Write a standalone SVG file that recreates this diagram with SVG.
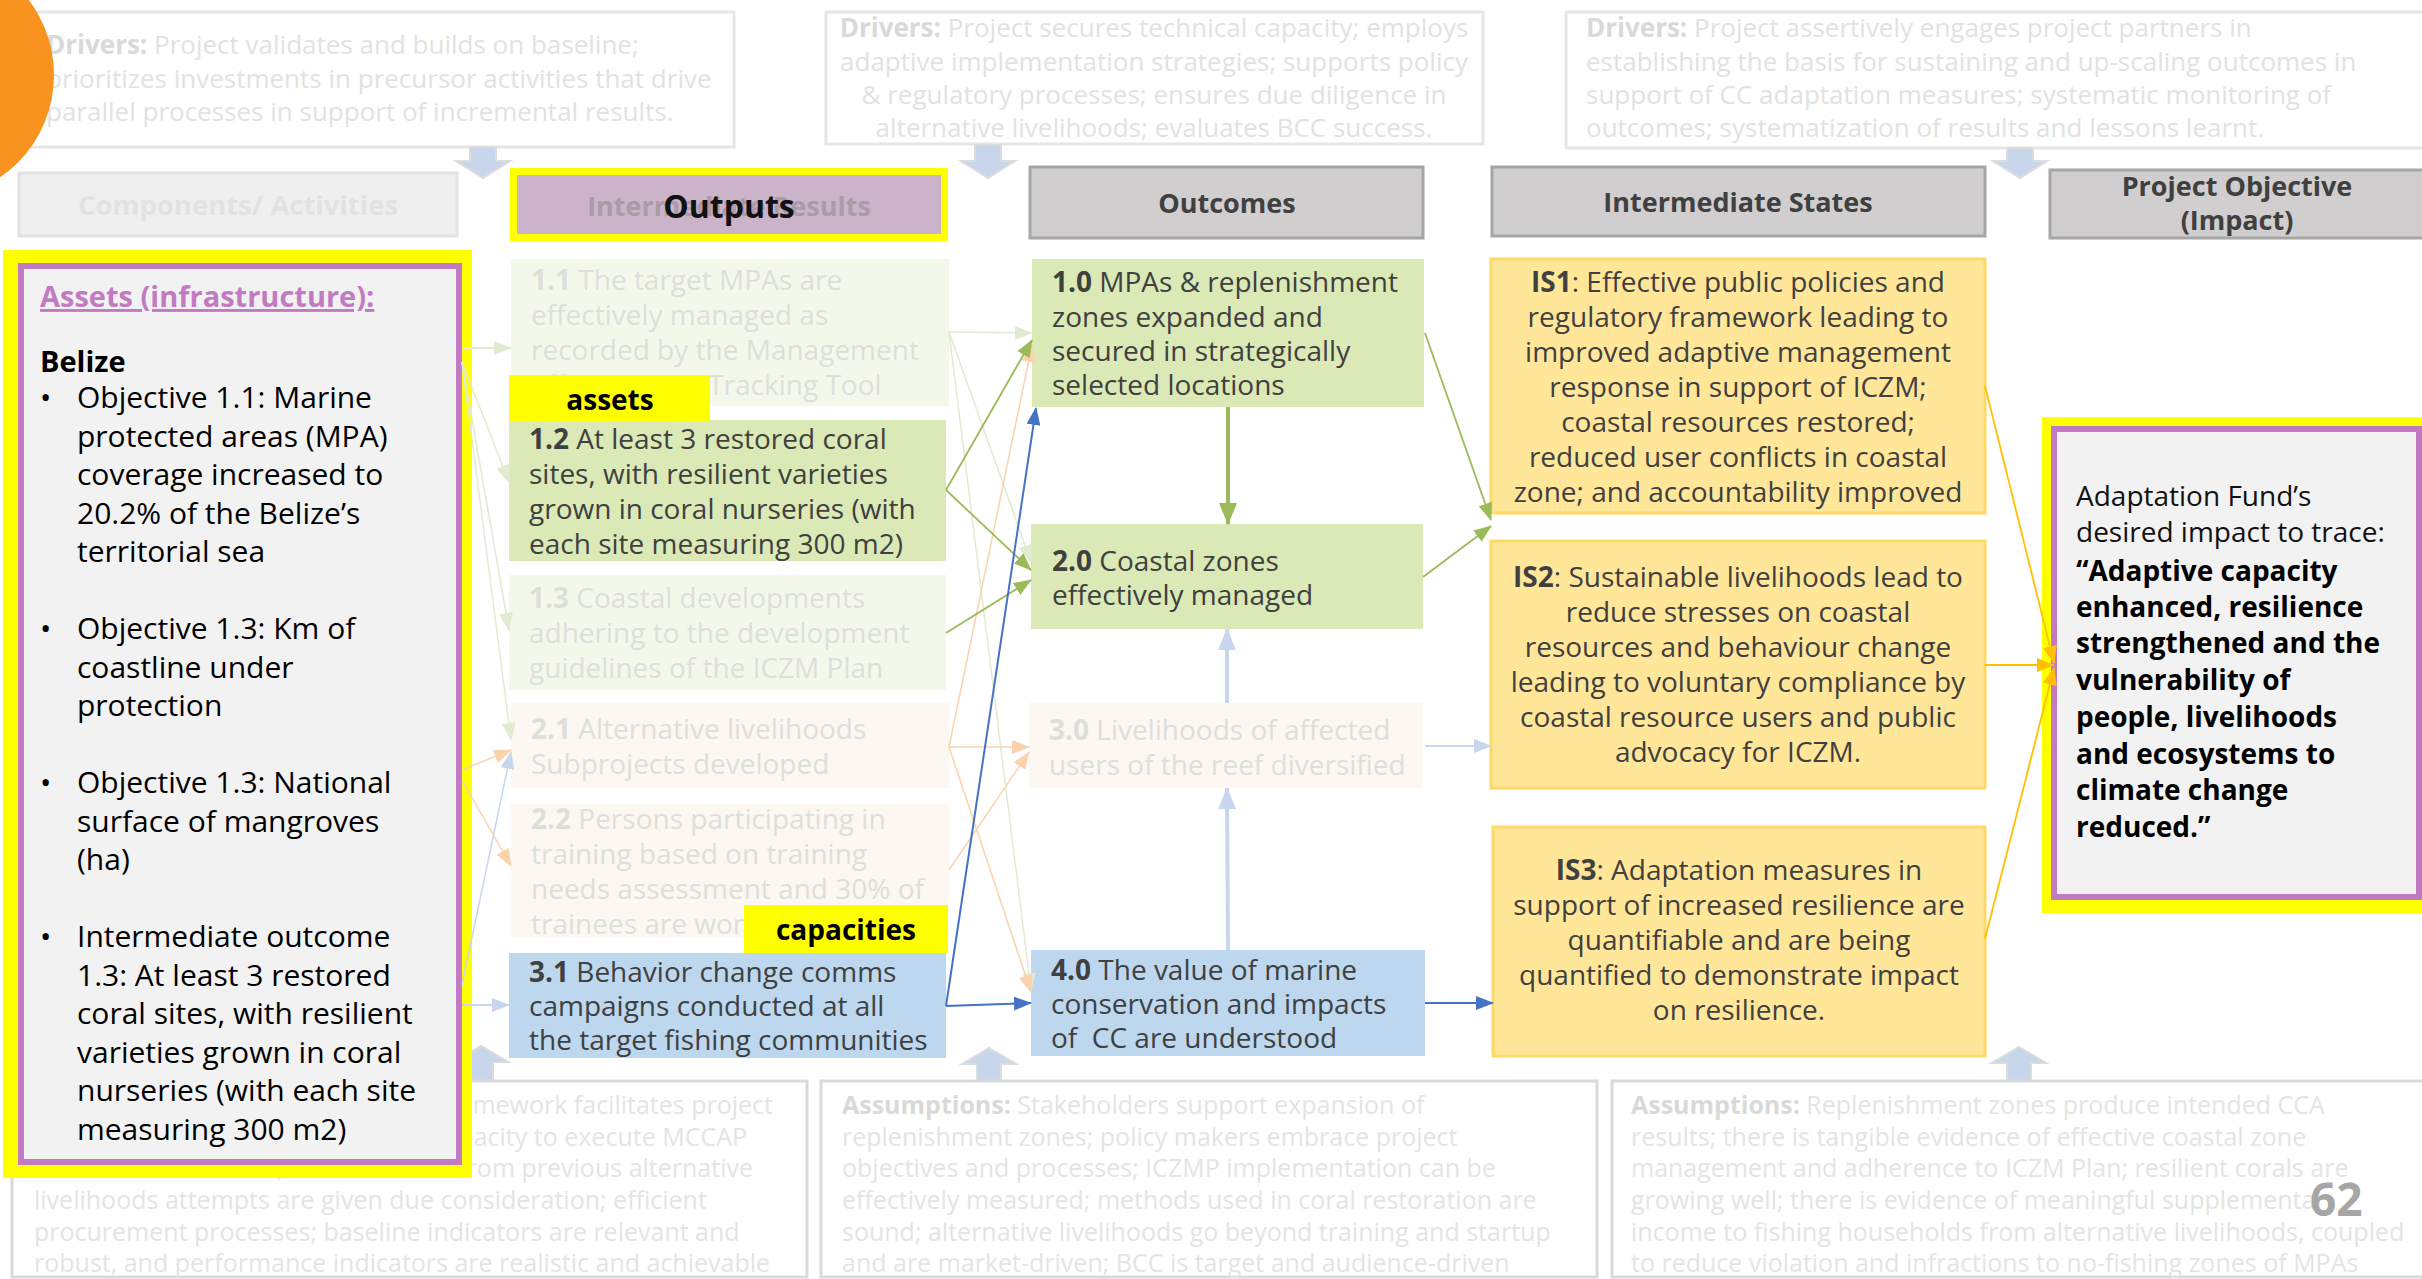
<svg xmlns="http://www.w3.org/2000/svg" width="2422" height="1279" viewBox="0 0 2422 1279">
<defs>
<style>
text { font-family: "Open Sans", "Noto Sans", "Liberation Sans", sans-serif; }
.b { font-weight: bold; }
.frame { fill: #ffffff; stroke: #e6e6e6; stroke-width: 3; }
.assume { fill: #ffffff; stroke: #dadada; stroke-width: 3; }
.ghost { fill: #e2e2e2; font-size: 26px; }
.ghost-a { fill: #e4e4e4; font-size: 25px; }
.ghost-b { fill: #d9d9d9; }
.hdr { fill: #d0cece; stroke: #a6a6a6; stroke-width: 3; }
.hdr-t { fill: #404040; font-size: 27px; font-weight: bold; text-anchor: middle; }
.box-t { fill: #404040; font-size: 28px; }
.box-f { fill: #dedfdb; font-size: 28px; }
.green { fill: #dae9b6; }
.pale-green { fill: #f3f8eb; }
.pale-peach { fill: #fcf7f1; }
.blue { fill: #bdd7ee; }
.state { fill: #ffe699; stroke: #ffd966; stroke-width: 3; }
.state-t { fill: #404040; font-size: 28px; text-anchor: middle; }
.hl { fill: #ffff00; }
.panel { fill: #f2f2f2; stroke: #c27bc2; stroke-width: 6; }
.panel-t { fill: #000000; font-size: 30px; }
.tag-t { fill: #000000; font-size: 28px; font-weight: bold; text-anchor: middle; }
.blk { fill: #c8d6ec; stroke: #dcdcdc; stroke-width: 2; }
.c { fill: none; }
</style>
<marker id="m-green" markerUnits="userSpaceOnUse" markerWidth="18" markerHeight="14" viewBox="0 0 18 14" refX="17" refY="7" orient="auto"><path d="M0,0 L18,7 L0,14 z" fill="#9bbb59"/></marker>
<marker id="m-green-lg" markerUnits="userSpaceOnUse" markerWidth="22" markerHeight="18" viewBox="0 0 22 18" refX="21" refY="9" orient="auto"><path d="M0,0 L22,9 L0,18 z" fill="#9bbb59"/></marker>
<marker id="m-pgreen" markerUnits="userSpaceOnUse" markerWidth="18" markerHeight="14" viewBox="0 0 18 14" refX="17" refY="7" orient="auto"><path d="M0,0 L18,7 L0,14 z" fill="#e1ebcf"/></marker>
<marker id="m-porange" markerUnits="userSpaceOnUse" markerWidth="18" markerHeight="14" viewBox="0 0 18 14" refX="17" refY="7" orient="auto"><path d="M0,0 L18,7 L0,14 z" fill="#fad3ad"/></marker>
<marker id="m-blue" markerUnits="userSpaceOnUse" markerWidth="18" markerHeight="14" viewBox="0 0 18 14" refX="17" refY="7" orient="auto"><path d="M0,0 L18,7 L0,14 z" fill="#4472c4"/></marker>
<marker id="m-pblue" markerUnits="userSpaceOnUse" markerWidth="18" markerHeight="14" viewBox="0 0 18 14" refX="17" refY="7" orient="auto"><path d="M0,0 L18,7 L0,14 z" fill="#c8d6ee"/></marker>
<marker id="m-pblue-lg" markerUnits="userSpaceOnUse" markerWidth="22" markerHeight="18" viewBox="0 0 22 18" refX="21" refY="9" orient="auto"><path d="M0,0 L22,9 L0,18 z" fill="#c8d6ee"/></marker>
<marker id="m-gold" markerUnits="userSpaceOnUse" markerWidth="18" markerHeight="14" viewBox="0 0 18 14" refX="17" refY="7" orient="auto"><path d="M0,0 L18,7 L0,14 z" fill="#ffc000"/></marker>
</defs>

<rect x="0" y="0" width="2422" height="1279" fill="#ffffff"/>

<!-- drivers along the top -->
<g id="driver-1">
<rect class="frame" x="28" y="12" width="706" height="135"/>
<text class="ghost"><tspan x="46" y="54"><tspan class="b ghost-b">Drivers:</tspan> Project validates and builds on baseline;</tspan><tspan x="46" y="88">prioritizes investments in precursor activities that drive</tspan><tspan x="46" y="121">parallel processes in support of incremental results.</tspan></text>
</g>
<g id="driver-2">
<rect class="frame" x="826" y="12" width="657" height="132"/>
<text class="ghost" text-anchor="middle"><tspan x="1154" y="37"><tspan class="b ghost-b">Drivers:</tspan> Project secures technical capacity; employs</tspan><tspan x="1154" y="71">adaptive implementation strategies; supports policy</tspan><tspan x="1154" y="104">&amp; regulatory processes; ensures due diligence in</tspan><tspan x="1154" y="137">alternative livelihoods; evaluates BCC success.</tspan></text>
</g>
<g id="driver-3">
<rect class="frame" x="1566" y="12" width="860" height="136"/>
<text class="ghost"><tspan x="1586" y="37"><tspan class="b ghost-b">Drivers:</tspan> Project assertively engages project partners in</tspan><tspan x="1586" y="71">establishing the basis for sustaining and up-scaling outcomes in</tspan><tspan x="1586" y="104">support of CC adaptation measures; systematic monitoring of</tspan><tspan x="1586" y="137">outcomes; systematization of results and lessons learnt.</tspan></text>
</g>

<circle id="corner-mark" cx="-70" cy="75" r="124" fill="#f7931e"/>

<!-- block arrows: drivers down, assumptions up -->
<g id="flow-arrows">
<polygon class="blk" points="470,147 496,147 496,161 510,161 483,178 456,161 470,161"/>
<polygon class="blk" points="975,145 1001,145 1001,161 1015,161 988,178 961,161 975,161"/>
<polygon class="blk" points="2007,148 2033,148 2033,161 2047,161 2020,178 1993,161 2007,161"/>
<polygon class="blk" points="469,1081 493,1081 493,1062 508,1062 481,1046 454,1062 469,1062"/>
<polygon class="blk" points="977,1081 1001,1081 1001,1064 1016,1064 989,1048 962,1064 977,1064"/>
<polygon class="blk" points="2007,1081 2031,1081 2031,1063 2046,1063 2019,1047 1992,1063 2007,1063"/>
</g>

<!-- assumptions along the bottom -->
<g id="assumptions-1">
<rect class="assume" x="12" y="1081" width="795" height="196"/>
<text class="ghost-a"><tspan x="773" y="1114" text-anchor="end"><tspan class="b ghost-b">Assumptions:</tspan> Policy framework facilitates project</tspan><tspan x="747" y="1146" text-anchor="end">implementation; partners have capacity to execute MCCAP</tspan><tspan x="753" y="1177" text-anchor="end">activities; lessons learnt from previous alternative</tspan><tspan x="34" y="1209">livelihoods attempts are given due consideration; efficient</tspan><tspan x="34" y="1241">procurement processes; baseline indicators are relevant and</tspan><tspan x="34" y="1272">robust, and performance indicators are realistic and achievable</tspan></text>
</g>
<g id="assumptions-2">
<rect class="assume" x="821" y="1081" width="776" height="196"/>
<text class="ghost-a"><tspan x="842" y="1114"><tspan class="b ghost-b">Assumptions:</tspan> Stakeholders support expansion of</tspan><tspan x="842" y="1146">replenishment zones; policy makers embrace project</tspan><tspan x="842" y="1177">objectives and processes; ICZMP implementation can be</tspan><tspan x="842" y="1209">effectively measured; methods used in coral restoration are</tspan><tspan x="842" y="1241">sound; alternative livelihoods go beyond training and startup</tspan><tspan x="842" y="1272">and are market-driven; BCC is target and audience-driven</tspan></text>
</g>
<g id="assumptions-3">
<rect class="assume" x="1612" y="1081" width="812" height="196"/>
<text class="ghost-a"><tspan x="1631" y="1114"><tspan class="b ghost-b">Assumptions:</tspan> Replenishment zones produce intended CCA</tspan><tspan x="1631" y="1146">results; there is tangible evidence of effective coastal zone</tspan><tspan x="1631" y="1177">management and adherence to ICZM Plan; resilient corals are</tspan><tspan x="1631" y="1209">growing well; there is evidence of meaningful supplemental</tspan><tspan x="1631" y="1241">income to fishing households from alternative livelihoods, coupled</tspan><tspan x="1631" y="1272">to reduce violation and infractions to no-fishing zones of MPAs</tspan></text>
</g>
<text id="page-number" x="2310" y="1216" font-size="46" font-weight="bold" fill="#a6a6a6">62</text>

<!-- column headers -->
<g id="hdr-components">
<rect x="19" y="173" width="438" height="63" fill="#efefef" stroke="#e2e2e2" stroke-width="3"/>
<text x="238" y="215" font-size="27.5" font-weight="bold" fill="#e2e2e2" text-anchor="middle">Components/ Activities</text>
</g>
<g id="hdr-outputs">
<rect class="hl" x="510" y="168" width="438" height="73"/>
<rect x="517" y="175" width="424" height="59" fill="#cbb4ca"/>
<text x="729" y="216" font-size="27" font-weight="bold" fill="#a99ba8" text-anchor="middle">Intermediate Results</text>
<text x="729" y="218" font-size="32" font-weight="bold" fill="#111111" text-anchor="middle">Outputs</text>
</g>
<g id="hdr-outcomes">
<rect class="hdr" x="1030" y="167" width="393" height="71"/>
<text class="hdr-t" x="1227" y="213">Outcomes</text>
</g>
<g id="hdr-states">
<rect class="hdr" x="1492" y="167" width="493" height="69"/>
<text class="hdr-t" x="1738" y="212">Intermediate States</text>
</g>
<g id="hdr-impact">
<rect class="hdr" x="2050" y="170" width="374" height="68"/>
<text class="hdr-t"><tspan x="2237" y="196">Project Objective</tspan><tspan x="2237" y="230">(Impact)</tspan></text>
</g>

<!-- outputs -->
<g id="out-1-1">
<rect class="pale-green" x="511" y="259" width="438" height="147"/>
<text class="box-f"><tspan x="531" y="290"><tspan class="b">1.1</tspan> The target MPAs are</tspan><tspan x="531" y="325">effectively managed as</tspan><tspan x="531" y="360">recorded by the Management</tspan><tspan x="531" y="395">Effectiveness Tracking Tool</tspan></text>
</g>
<g id="out-1-2">
<rect class="green" x="509" y="420" width="437" height="141"/>
<text class="box-t"><tspan x="529" y="449"><tspan class="b">1.2</tspan> At least 3 restored coral</tspan><tspan x="529" y="484">sites, with resilient varieties</tspan><tspan x="529" y="519">grown in coral nurseries (with</tspan><tspan x="529" y="554">each site measuring 300 m2)</tspan></text>
</g>
<g id="out-1-3">
<rect class="pale-green" x="509" y="575" width="437" height="115"/>
<text class="box-f"><tspan x="529" y="608"><tspan class="b">1.3</tspan> Coastal developments</tspan><tspan x="529" y="643">adhering to the development</tspan><tspan x="529" y="678">guidelines of the ICZM Plan</tspan></text>
</g>
<g id="out-2-1">
<rect class="pale-peach" x="511" y="703" width="438" height="85"/>
<text class="box-f"><tspan x="531" y="739"><tspan class="b">2.1</tspan> Alternative livelihoods</tspan><tspan x="531" y="774">Subprojects developed</tspan></text>
</g>
<g id="out-2-2">
<rect class="pale-peach" x="511" y="804" width="438" height="134"/>
<text class="box-f"><tspan x="531" y="829"><tspan class="b">2.2</tspan> Persons participating in</tspan><tspan x="531" y="864">training based on training</tspan><tspan x="531" y="899">needs assessment and 30% of</tspan><tspan x="531" y="934">trainees are women</tspan></text>
</g>
<g id="out-3-1">
<rect class="blue" x="509" y="953" width="437" height="105"/>
<text class="box-t"><tspan x="529" y="982"><tspan class="b">3.1</tspan> Behavior change comms</tspan><tspan x="529" y="1016">campaigns conducted at all</tspan><tspan x="529" y="1050">the target fishing communities</tspan></text>
</g>
<g id="tag-assets">
<rect class="hl" x="509" y="375" width="201" height="47"/>
<text class="tag-t" x="610" y="410">assets</text>
</g>
<g id="tag-capacities">
<rect class="hl" x="744" y="905" width="204" height="48"/>
<text class="tag-t" x="846" y="940">capacities</text>
</g>

<!-- outcomes -->
<g id="oc-1-0">
<rect class="green" x="1032" y="259" width="392" height="148"/>
<text class="box-t"><tspan x="1052" y="292"><tspan class="b">1.0</tspan> MPAs &amp; replenishment</tspan><tspan x="1052" y="327">zones expanded and</tspan><tspan x="1052" y="361">secured in strategically</tspan><tspan x="1052" y="395">selected locations</tspan></text>
</g>
<g id="oc-2-0">
<rect class="green" x="1031" y="524" width="392" height="105"/>
<text class="box-t"><tspan x="1052" y="571"><tspan class="b">2.0</tspan> Coastal zones</tspan><tspan x="1052" y="605">effectively managed</tspan></text>
</g>
<g id="oc-3-0">
<rect class="pale-peach" x="1029" y="703" width="394" height="85"/>
<text class="box-f"><tspan x="1049" y="740"><tspan class="b">3.0</tspan> Livelihoods of affected</tspan><tspan x="1049" y="775">users of the reef diversified</tspan></text>
</g>
<g id="oc-4-0">
<rect class="blue" x="1031" y="950" width="394" height="106"/>
<text class="box-t"><tspan x="1051" y="980"><tspan class="b">4.0</tspan> The value of marine</tspan><tspan x="1051" y="1014">conservation and impacts</tspan><tspan x="1051" y="1048" xml:space="preserve">of  CC are understood</tspan></text>
</g>

<!-- intermediate states -->
<g id="is-1">
<rect class="state" x="1491" y="259" width="494" height="254"/>
<text class="state-t"><tspan x="1738" y="292"><tspan class="b">IS1</tspan>: Effective public policies and</tspan><tspan x="1738" y="327">regulatory framework leading to</tspan><tspan x="1738" y="362">improved adaptive management</tspan><tspan x="1738" y="397">response in support of ICZM;</tspan><tspan x="1738" y="432">coastal resources restored;</tspan><tspan x="1738" y="467">reduced user conflicts in coastal</tspan><tspan x="1738" y="502">zone; and accountability improved</tspan></text>
</g>
<g id="is-2">
<rect class="state" x="1491" y="541" width="494" height="247"/>
<text class="state-t"><tspan x="1738" y="587"><tspan class="b">IS2</tspan>: Sustainable livelihoods lead to</tspan><tspan x="1738" y="622">reduce stresses on coastal</tspan><tspan x="1738" y="657">resources and behaviour change</tspan><tspan x="1738" y="692">leading to voluntary compliance by</tspan><tspan x="1738" y="727">coastal resource users and public</tspan><tspan x="1738" y="762">advocacy for ICZM.</tspan></text>
</g>
<g id="is-3">
<rect class="state" x="1493" y="827" width="492" height="229"/>
<text class="state-t"><tspan x="1739" y="880"><tspan class="b">IS3</tspan>: Adaptation measures in</tspan><tspan x="1739" y="915">support of increased resilience are</tspan><tspan x="1739" y="950">quantifiable and are being</tspan><tspan x="1739" y="985">quantified to demonstrate impact</tspan><tspan x="1739" y="1020">on resilience.</tspan></text>
</g>

<!-- project objective -->
<g id="impact">
<rect class="hl" x="2042" y="417" width="382" height="496"/>
<rect class="panel" x="2054" y="429" width="365" height="468"/>
<text fill="#111111" font-size="28"><tspan x="2076" y="506">Adaptation Fund’s</tspan><tspan x="2076" y="542">desired impact to trace:</tspan></text>
<text fill="#000000" font-size="28" font-weight="bold"><tspan x="2076" y="581">“Adaptive capacity</tspan><tspan x="2076" y="617">enhanced, resilience</tspan><tspan x="2076" y="653">strengthened and the</tspan><tspan x="2076" y="690">vulnerability of</tspan><tspan x="2076" y="727">people, livelihoods</tspan><tspan x="2076" y="764">and ecosystems to</tspan><tspan x="2076" y="800">climate change</tspan><tspan x="2076" y="837">reduced.”</tspan></text>
</g>

<!-- assets panel on the left -->
<g id="assets-panel">
<rect class="hl" x="3" y="250" width="469" height="928"/>
<rect class="panel" x="21" y="266" width="438" height="896"/>
<text x="40" y="307" font-size="29" font-weight="bold" fill="#c27bc2" text-decoration="underline">Assets (infrastructure):</text>
<text x="40" y="372" font-size="29" font-weight="bold" fill="#000000">Belize</text>
<text class="panel-t">
<tspan x="40" y="408">•</tspan><tspan x="77" y="408">Objective 1.1: Marine</tspan>
<tspan x="77" y="446.5">protected areas (MPA)</tspan>
<tspan x="77" y="485">coverage increased to</tspan>
<tspan x="77" y="523.5">20.2% of the Belize’s</tspan>
<tspan x="77" y="562">territorial sea</tspan>
<tspan x="40" y="639">•</tspan><tspan x="77" y="639">Objective 1.3: Km of</tspan>
<tspan x="77" y="677.5">coastline under</tspan>
<tspan x="77" y="716">protection</tspan>
<tspan x="40" y="793">•</tspan><tspan x="77" y="793">Objective 1.3: National</tspan>
<tspan x="77" y="831.5">surface of mangroves</tspan>
<tspan x="77" y="870">(ha)</tspan>
<tspan x="40" y="947">•</tspan><tspan x="77" y="947">Intermediate outcome</tspan>
<tspan x="77" y="985.5">1.3: At least 3 restored</tspan>
<tspan x="77" y="1024">coral sites, with resilient</tspan>
<tspan x="77" y="1062.5">varieties grown in coral</tspan>
<tspan x="77" y="1101">nurseries (with each site</tspan>
<tspan x="77" y="1139.5">measuring 300 m2)</tspan>
</text>
</g>

<!-- connectors -->
<g id="connectors" class="c">
<!-- assets panel to outputs -->
<line x1="462" y1="348" x2="511" y2="348" stroke="#e1ebcf" stroke-width="2" marker-end="url(#m-pgreen)"/>
<line x1="462" y1="362" x2="509" y2="482" stroke="#e1ebcf" stroke-width="1.5" marker-end="url(#m-pgreen)"/>
<line x1="462" y1="362" x2="509" y2="630" stroke="#e1ebcf" stroke-width="1.5" marker-end="url(#m-pgreen)"/>
<line x1="462" y1="362" x2="511" y2="740" stroke="#e1ebcf" stroke-width="1.5" marker-end="url(#m-pgreen)"/>
<line x1="462" y1="770" x2="511" y2="750" stroke="#fad3ad" stroke-width="1.5" marker-end="url(#m-porange)"/>
<line x1="462" y1="780" x2="511" y2="866" stroke="#fad3ad" stroke-width="1.5" marker-end="url(#m-porange)"/>
<line x1="462" y1="985" x2="511" y2="752" stroke="#c8d6ee" stroke-width="1.5" marker-end="url(#m-pblue)"/>
<line x1="462" y1="1005" x2="509" y2="1005" stroke="#c8d6ee" stroke-width="2" marker-end="url(#m-pblue)"/>
<!-- outputs to outcomes -->
<line x1="949" y1="332" x2="1032" y2="333" stroke="#e1ebcf" stroke-width="1.5" marker-end="url(#m-pgreen)"/>
<line x1="949" y1="332" x2="1031" y2="562" stroke="#e1ebcf" stroke-width="1.5" marker-end="url(#m-pgreen)"/>
<line x1="949" y1="332" x2="1031" y2="990" stroke="#e1ebcf" stroke-width="1.5" marker-end="url(#m-pgreen)"/>
<line x1="949" y1="747" x2="1029" y2="747" stroke="#fad3ad" stroke-width="1.5" marker-end="url(#m-porange)"/>
<line x1="949" y1="747" x2="1032" y2="345" stroke="#fad3ad" stroke-width="1.5" marker-end="url(#m-porange)"/>
<line x1="949" y1="747" x2="1031" y2="992" stroke="#fad3ad" stroke-width="1.5" marker-end="url(#m-porange)"/>
<line x1="949" y1="870" x2="1029" y2="752" stroke="#fad3ad" stroke-width="1.5" marker-end="url(#m-porange)"/>
<line x1="946" y1="490" x2="1032" y2="340" stroke="#9bbb59" stroke-width="1.8" marker-end="url(#m-green)"/>
<line x1="946" y1="490" x2="1031" y2="570" stroke="#9bbb59" stroke-width="1.8" marker-end="url(#m-green)"/>
<line x1="946" y1="633" x2="1031" y2="580" stroke="#9bbb59" stroke-width="1.8" marker-end="url(#m-green)"/>
<line x1="946" y1="1006" x2="1036" y2="408" stroke="#4472c4" stroke-width="2" marker-end="url(#m-blue)"/>
<line x1="946" y1="1006" x2="1031" y2="1003" stroke="#4472c4" stroke-width="2" marker-end="url(#m-blue)"/>
<!-- between outcomes -->
<line x1="1228" y1="407" x2="1228" y2="524" stroke="#9bbb59" stroke-width="4" marker-end="url(#m-green-lg)"/>
<line x1="1227" y1="703" x2="1227" y2="629" stroke="#c8d6ee" stroke-width="4" marker-end="url(#m-pblue-lg)"/>
<line x1="1228" y1="950" x2="1227" y2="788" stroke="#c8d6ee" stroke-width="4" marker-end="url(#m-pblue-lg)"/>
<!-- outcomes to intermediate states -->
<line x1="1425" y1="333" x2="1491" y2="520" stroke="#9bbb59" stroke-width="1.8" marker-end="url(#m-green)"/>
<line x1="1423" y1="577" x2="1491" y2="526" stroke="#9bbb59" stroke-width="1.8" marker-end="url(#m-green)"/>
<line x1="1425" y1="746" x2="1491" y2="746" stroke="#c8d6ee" stroke-width="2" marker-end="url(#m-pblue)"/>
<line x1="1425" y1="1003" x2="1493" y2="1003" stroke="#4472c4" stroke-width="2" marker-end="url(#m-blue)"/>
<!-- intermediate states to impact -->
<line x1="1985" y1="386" x2="2054" y2="663" stroke="#ffc000" stroke-width="1.8" marker-end="url(#m-gold)"/>
<line x1="1985" y1="665" x2="2054" y2="665" stroke="#ffc000" stroke-width="1.8" marker-end="url(#m-gold)"/>
<line x1="1985" y1="939" x2="2054" y2="668" stroke="#ffc000" stroke-width="1.8" marker-end="url(#m-gold)"/>
</g>
</svg>
